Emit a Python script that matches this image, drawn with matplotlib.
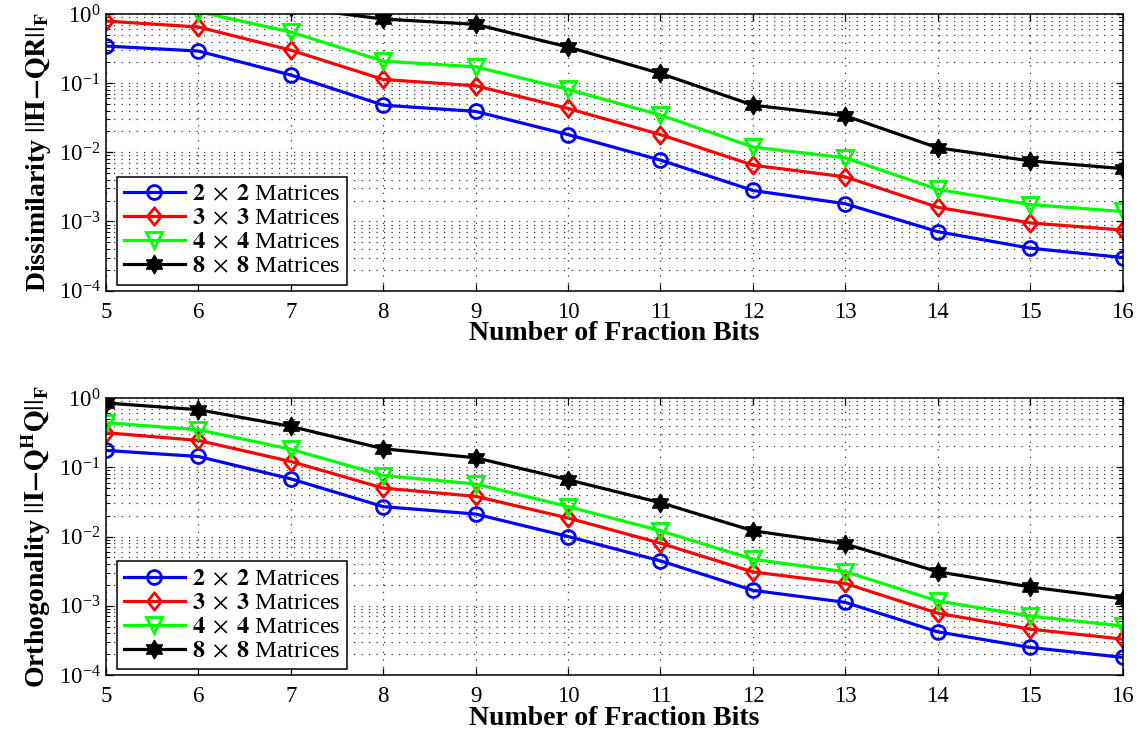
import numpy as np
import matplotlib
matplotlib.use("Agg")
import matplotlib.pyplot as plt
from matplotlib.path import Path
from matplotlib.ticker import LogLocator, NullFormatter, FixedLocator

plt.rcParams['font.family'] = 'serif'
plt.rcParams['font.serif'] = ['Liberation Serif', 'DejaVu Serif']
plt.rcParams['mathtext.fontset'] = 'stix'

bits = [5, 6, 7, 8, 9, 10, 11, 12, 13, 14, 15, 16]
labels = [r"$\mathbf{2}\;\times\;\mathbf{2}$ Matrices", r"$\mathbf{3}\;\times\;\mathbf{3}$ Matrices",
          r"$\mathbf{4}\;\times\;\mathbf{4}$ Matrices", r"$\mathbf{8}\;\times\;\mathbf{8}$ Matrices"]

# Dissimilarity ||H-QR||_F
dis_2 = [0.344, 0.291, 0.131, 0.048, 0.039, 0.018, 0.0077, 0.0028, 0.0018, 0.00071, 0.00041, 0.00030]
dis_3 = [0.79, 0.648, 0.30, 0.113, 0.0915, 0.043, 0.018, 0.0065, 0.0044, 0.0016, 0.00095, 0.00075]
dis_4 = [1.25, 1.08, 0.549, 0.208, 0.172, 0.081, 0.0345, 0.0119, 0.0083, 0.0029, 0.00175, 0.00139]
dis_8 = [2.0, 1.6, 1.25, 0.846, 0.709, 0.333, 0.138, 0.048, 0.0337, 0.0116, 0.0075, 0.0058]

# Orthogonality ||I-Q^H Q||_F
orth_2 = [0.175, 0.143, 0.068, 0.027, 0.0211, 0.010, 0.00445, 0.00167, 0.00112, 0.00042, 0.00025, 0.00018]
orth_3 = [0.315, 0.244, 0.121, 0.050, 0.038, 0.0185, 0.0080, 0.00308, 0.0021, 0.00078, 0.00046, 0.00033]
orth_4 = [0.44, 0.348, 0.182, 0.076, 0.0574, 0.027, 0.0121, 0.0047, 0.0031, 0.00117, 0.00071, 0.00051]
orth_8 = [0.847, 0.678, 0.389, 0.185, 0.137, 0.066, 0.0308, 0.0121, 0.0078, 0.0031, 0.00187, 0.00126]

diamond = Path([(0, 1), (0.8, 0), (0, -1), (-0.8, 0), (0, 1)],
               [Path.MOVETO, Path.LINETO, Path.LINETO, Path.LINETO, Path.CLOSEPOLY])
hexagram = Path.unit_regular_star(6, 0.577)

colors = ['#0000ff', '#ff0000', '#00ff00', '#000000']
markers = ['o', diamond, 'v', hexagram]
msizes = [10, 12.5, 11.5, 13]
mfcs = ['none', 'none', 'none', 'black']
mews = [2.0, 2.0, 2.0, 1.2]

fig = plt.figure(figsize=(11.47, 7.38), dpi=100)
W, H = 1147, 738
ax1 = fig.add_axes([106 / W, 1 - 290.5 / H, 1016.5 / W, 276.5 / H])
ax2 = fig.add_axes([106 / W, 1 - 675 / H, 1016.5 / W, 277 / H])

def style(ax, series, ylabel):
    for s, c, m, ms, fc, mw, lab in zip(series, colors, markers, msizes, mfcs, mews, labels):
        ax.plot(bits, s, color=c, lw=2.3, marker=m, ms=ms, mfc=fc,
                mec=c, mew=mw, label=lab)
    ax.set_yscale('log')
    ax.set_xlim(5, 16)
    ax.set_ylim(1e-4, 1e0)
    ax.xaxis.set_major_locator(FixedLocator(bits))
    ax.yaxis.set_major_locator(LogLocator(base=10, numticks=10))
    ax.yaxis.set_minor_locator(LogLocator(base=10, subs=np.arange(2, 10), numticks=20))
    ax.yaxis.set_minor_formatter(NullFormatter())
    ax.tick_params(which='both', direction='in', top=True, right=True, labelsize=16.5)
    ax.tick_params(axis='x', which='major', pad=8)
    ax.tick_params(axis='y', which='major', pad=4)
    ax.tick_params(which='major', length=5, width=0.9)
    ax.tick_params(which='minor', length=3, width=0.7)
    grid_ls = (0, (1, 5))
    ax.grid(True, which='major', axis='both', linestyle=grid_ls, color='0.2', lw=0.9)
    ax.grid(True, which='minor', axis='y', linestyle=grid_ls, color='0.2', lw=0.9)
    for sp in ax.spines.values():
        sp.set_linewidth(1.1)
    ax.set_xlabel('Number of Fraction Bits', fontsize=20, fontweight='bold')
    ax.xaxis.set_label_coords(0.5, -0.112)
    ax.set_ylabel(ylabel, fontsize=20, fontweight='bold')
    ax.yaxis.set_label_coords(-0.052, 0.5)
    leg = ax.legend(loc='lower left', bbox_to_anchor=(11 / 1016.5, 6 / 276.5), borderaxespad=0,
                    fontsize=17.5, handlelength=2.5, labelspacing=0.08, borderpad=0.28,
                    handletextpad=0.3, fancybox=False, framealpha=1, edgecolor='black')
    leg.get_frame().set_linewidth(1.1)

style(ax1, [dis_2, dis_3, dis_4, dis_8], r"Dissimilarity $||\mathbf{H{-}QR}||_\mathbf{F}$")
style(ax2, [orth_2, orth_3, orth_4, orth_8], r"Orthogonality $||\mathbf{I{-}Q^{H}Q}||_\mathbf{F}$")

fig.savefig('out.png', dpi=100)
